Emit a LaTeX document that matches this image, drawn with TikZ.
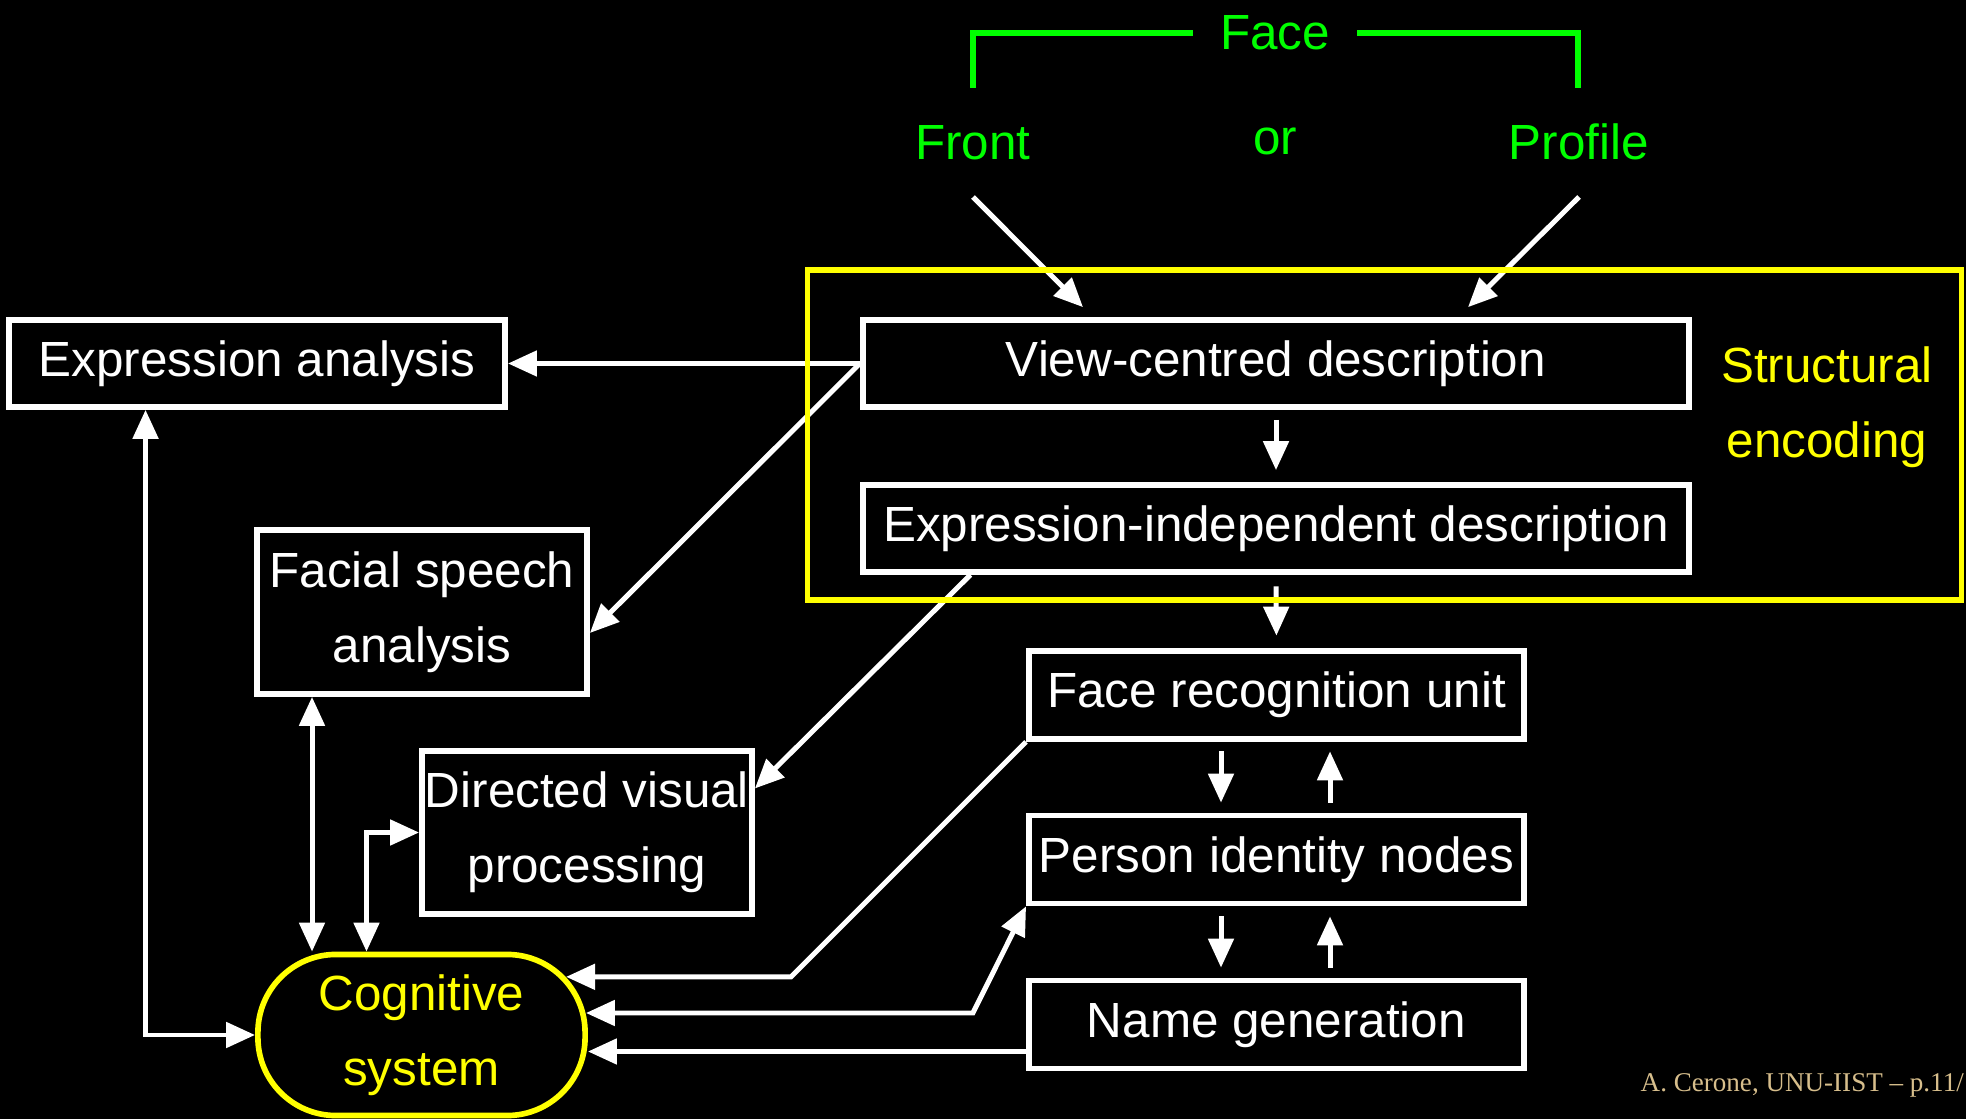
\documentclass[tikz,border=0pt]{standalone}
\usepackage{fontspec}
\setmainfont{Liberation Sans}
\newfontfamily\footfont{Liberation Serif}
\usetikzlibrary{arrows.meta,calc}
\definecolor{fgreen}{RGB}{0,255,0}
\definecolor{fyellow}{RGB}{255,255,0}
\definecolor{ftan}{RGB}{215,190,140}

\begin{document}
\begin{tikzpicture}[x=0.01cm,y=-0.01cm,
  every node/.style={font=\fontsize{14.05pt}{21.3pt}\selectfont},
  box/.style={draw=white, line width=1.6pt, fill=black, text=white,
    inner sep=0pt, align=center},
  widebox/.style={box, minimum width=8.26cm, minimum height=0.87cm},
  midbox/.style={box, minimum width=4.95cm, minimum height=0.88cm},
  tallbox/.style={box, minimum width=3.30cm, minimum height=1.63cm},
  arr/.style={white, line width=1.42pt, -{Triangle[length=0.29cm,width=0.25cm]}},
  arrb/.style={white, line width=1.42pt,
    {Triangle[length=0.29cm,width=0.25cm]}-{Triangle[length=0.29cm,width=0.25cm]}},
  greentext/.style={text=fgreen, anchor=base, inner sep=0pt},
  bracket/.style={fgreen, line width=1.5pt}
]
% background and page frame
\fill[black] (0,0) rectangle (1966,1119);
\useasboundingbox (0,0) rectangle (1966,1119);

% face input labels
\node[greentext] (face) at (1275,50) {Face};
\node[greentext] (front) at (973,160) {Front};
\node[greentext] (or) at (1275,155) {or};
\node[greentext] (profile) at (1579,160) {Profile};
\draw[bracket] (973,88) -- (973,33) -- (1193,33);
\draw[bracket] (1357,33) -- (1578,33) -- (1578,88);

% processing boxes
\node[box, minimum width=4.96cm, minimum height=0.87cm] (ea) at (257,363.5) {Expression analysis};
\node[widebox] (vcd) at (1276,363.5) {View-centred description};
\node[widebox] (eid) at (1276,528.5) {Expression-independent description};
\node[tallbox, minimum height=1.64cm] (fsa) at (422,612) {Facial speech\\analysis};
\node[tallbox] (dvp) at (587,832.5) {Directed visual\\processing};
\node[midbox] (fru) at (1276.5,695) {Face recognition unit};
\node[midbox] (pin) at (1276.5,859.5) {Person identity nodes};
\node[midbox] (ng) at (1276.5,1024.5) {Name generation};
\node[draw=fyellow, line width=1.6pt, fill=black, text=fyellow,
  rounded corners=0.78cm, minimum width=3.27cm, minimum height=1.61cm,
  inner sep=0pt, align=center] (cs) at (421.5,1035) {Cognitive\\system};

% inputs to the view-centred description
\draw[arr] ($(front.base)+(0,37)$) -- ($(vcd.north)+(-193,-10)$);
\draw[arr] ($(profile.base)+(0,37)$) -- ($(vcd.north)+(192,-10)$);

% structural encoding outputs
\draw[arr] (vcd.west) -- (ea.east);
\draw[arr] (vcd.west) -- ($(fsa.east)+(0,21)$);
\draw[arr, shorten <=0.1cm, shorten >=0.12cm] (vcd.south) -- (eid.north);
\draw[arr, shorten <=0.115cm, shorten >=0.125cm] (eid.south) -- (fru.north);
\draw[arr] ($(eid.south west)+(110.5,0)$) -- ($(dvp.east)+(0,-44)$);

% recognition chain
\draw[arr, shorten <=0.095cm, shorten >=0.1cm] ($(fru.south)+(-55.5,0)$) -- ($(pin.north)+(-55.5,0)$);
\draw[arr, shorten <=0.1cm, shorten >=0.095cm] ($(pin.north)+(53.5,0)$) -- ($(fru.south)+(53.5,0)$);
\draw[arr, shorten <=0.1cm, shorten >=0.1cm] ($(pin.south)+(-55.5,0)$) -- ($(ng.north)+(-55.5,0)$);
\draw[arr, shorten <=0.1cm, shorten >=0.1cm] ($(ng.north)+(53.5,0)$) -- ($(pin.south)+(53.5,0)$);

% links with the cognitive system
\draw[arr] (fru.south west) -- ++(-235,235) -- ++(-225,0);
\draw[arrb] ($(cs.east)+(-2,-22)$) -- ++(387,0) -- (pin.south west);
\coordinate (ngout) at ($(ng.west)+(0,27)$);
\draw[arr] (ngout) -- (ngout -| cs.east);
\draw[arrb] ($(ea.south west)+(139.5,0)$) |- (cs.west);
\coordinate (fsaleg) at ($(fsa.south)+(-110,0)$);
\draw[arrb] (fsaleg) -- (fsaleg |- cs.north);
\draw[arrb] ($(cs.north)+(-55,0)$) |- (dvp.west);

% structural encoding frame
\node[draw=fyellow, line width=1.6pt, minimum width=11.53cm, minimum height=3.30cm,
  inner sep=0pt] (se) at (1384.5,435) {};
\node[text=fyellow, align=center, inner sep=0pt] (setext) at (1827,407) {Structural\\encoding};

% footer
\node[font=\footfont\fontsize{7.7pt}{9pt}\selectfont, text=ftan, anchor=base west,
  inner sep=0pt] (foot) at (1640,1091) {A. Cerone, UNU-IIST – p.11/};
\end{tikzpicture}
\end{document}
